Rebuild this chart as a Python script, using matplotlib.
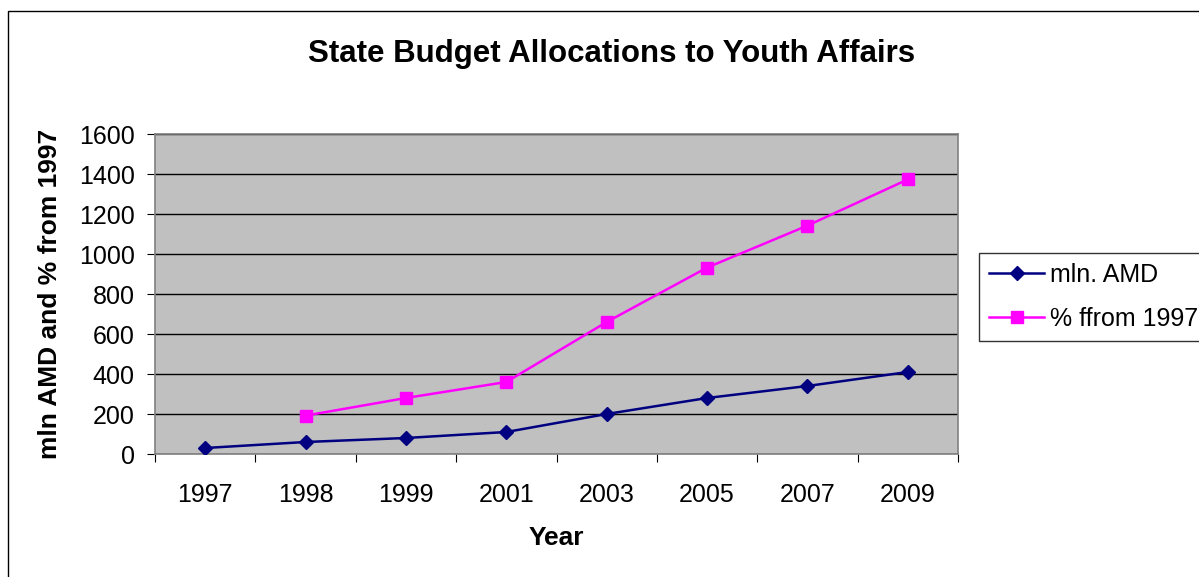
import matplotlib
matplotlib.use("Agg")
import matplotlib.pyplot as plt
from matplotlib.patches import Rectangle

plt.rcParams['font.family'] = ['Liberation Sans', 'DejaVu Sans']

years = ['1997', '1998', '1999', '2001', '2003', '2005', '2007', '2009']
mln_amd = [30, 60, 80, 110, 200, 280, 340, 410]
pct_from_1997 = [None, 192, 280, 360, 660, 932, 1142, 1373]

W, H = 1199, 577
fig = plt.figure(figsize=(W / 100, H / 100), dpi=100)
fig.patch.set_facecolor('white')

# outer frame
fig.patches.append(Rectangle((8 / W, -0.1), 1.2, (H - 11) / H + 0.1,
                             transform=fig.transFigure, fill=False,
                             edgecolor='black', linewidth=1.0))

ax = fig.add_axes([155 / W, (H - 454) / H, (958 - 155) / W, (454 - 134) / H])
ax.set_facecolor('#C0C0C0')

x = list(range(len(years)))
ax.plot(x, mln_amd, color='#000080', linewidth=1.8, marker='D',
        markersize=7.5, markerfacecolor='#000080', markeredgecolor='#000080',
        label='mln. AMD', zorder=3)
xp = [i for i, v in zip(x, pct_from_1997) if v is not None]
yp = [v for v in pct_from_1997 if v is not None]
ax.plot(xp, yp, color='#FF00FF', linewidth=1.8, marker='s',
        markersize=8.5, markerfacecolor='#FF00FF', markeredgecolor='#FF00FF',
        label='% ffrom 1997', zorder=3)

ax.set_xlim(-0.5, len(years) - 0.5)
ax.set_ylim(0, 1600)
ax.set_yticks(range(0, 1601, 200))
ax.yaxis.grid(True, color='black', linewidth=1.0)
ax.set_axisbelow(True)

ax.set_xticks([i - 0.5 for i in range(len(years) + 1)])
ax.set_xticklabels([])
ax.set_xticks(x, minor=True)
ax.set_xticklabels(years, minor=True)
ax.tick_params(axis='x', which='minor', length=0, pad=21, labelsize=18)
ax.tick_params(axis='x', which='major', length=6, color='black', direction='out')
ax.tick_params(axis='y', length=6, color='black', direction='out', pad=8.5, labelsize=18)

for s in ['left', 'bottom', 'top', 'right']:
    ax.spines[s].set_color('#808080')
    ax.spines[s].set_linewidth(1.2)

fig.text(612 / W, (H - 54) / H, 'State Budget Allocations to Youth Affairs',
         ha='center', va='center', fontsize=22.5, fontweight='bold')
fig.text(50 / W, (H - 294) / H, 'mln AMD and % from 1997', rotation=90,
         ha='center', va='center', fontsize=19, fontweight='bold')
fig.text(556 / W, (H - 538) / H, 'Year', ha='center', va='center',
         fontsize=19, fontweight='bold')

leg = fig.legend(loc='upper left', bbox_to_anchor=(979 / W, (H - 253) / H),
                 fontsize=18, frameon=True, fancybox=False, edgecolor='black',
                 handlelength=2.2, borderpad=0.4, labelspacing=0.8,
                 handletextpad=0.25, borderaxespad=0)
leg.get_frame().set_linewidth(1.0)

fig.savefig('out.png', dpi=100)
